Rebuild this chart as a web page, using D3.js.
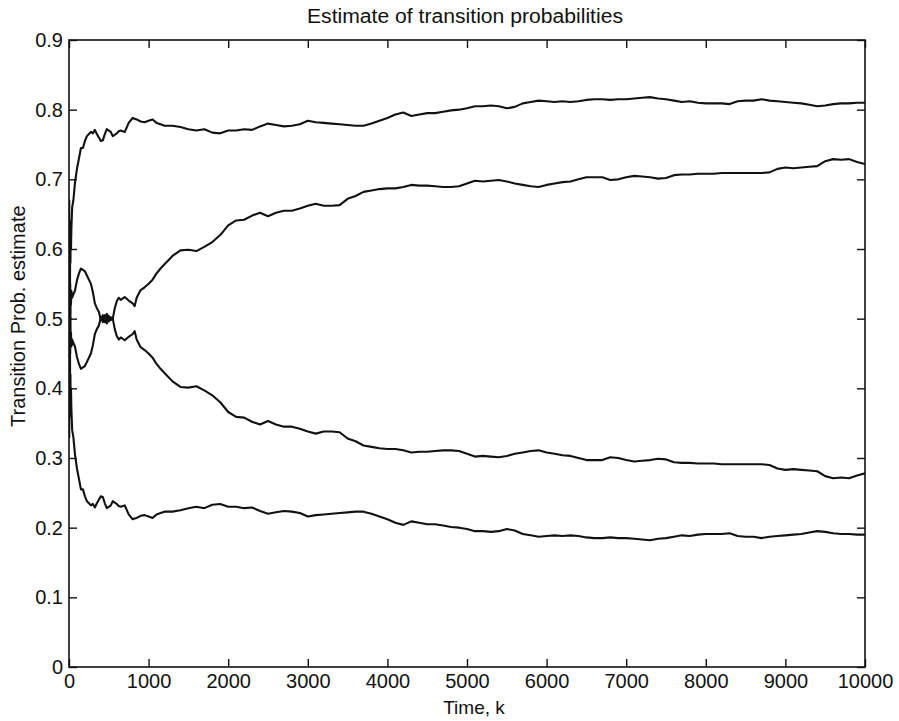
<!DOCTYPE html>
<html>
<head>
<meta charset="utf-8">
<script src="https://cdn.jsdelivr.net/npm/d3@7"></script>
<style>
  html, body { margin: 0; padding: 0; background: #fff; }
  svg { display: block; }
  text { font-family: "Liberation Sans", Arial, Helvetica, sans-serif; fill: #111; }
</style>
</head>
<body>
<svg id="chart" width="899" height="721"></svg>
<script>
// ---- data ----
const titleText = "Estimate of transition probabilities";
const xLabel = "Time, k";
const yLabel = "Transition Prob. estimate";
const xTicks = [0, 1000, 2000, 3000, 4000, 5000, 6000, 7000, 8000, 9000, 10000];
const yTicks = [0, 0.1, 0.2, 0.3, 0.4, 0.5, 0.6, 0.7, 0.8, 0.9];

const steps = [0,3,6,9,12,15,18,21,25,30,40,55,75,100,
  125,150,175,200,225,250,275,300,325,350,
  375,400,425,450,475,500,525,550,575,600,
  625,650,700,750,800,825,850,900,950,1000,
  1050,1100,1150,1200,
  1300,1400,1500,1600,1700,1800,1900,2000,
  2100,2200,2300,2400,2500,2600,2700,2800,2900,3000,
  3100,3200,3300,3400,3500,3600,3700,3800,3900,4000,
  4100,4200,4300,4400,4500,4600,4700,4800,4900,5000,
  5100,5200,5300,5400,5500,5600,5700,5800,5900,6000,
  6100,6200,6300,6400,6500,6600,6700,6800,6900,7000,
  7100,7200,7300,7400,7500,7600,7700,7800,7900,8000,
  8100,8200,8300,8400,8500,8600,8700,8800,8900,9000,
  9100,9200,9300,9400,9500,9600,9700,9800,9900,10000];

const seriesA = [0.50,0.67,0.45,0.63,0.52,0.64,0.58,0.62,0.60,0.63,0.66,0.67,0.695,0.715,
  0.73,0.745,0.745,0.755,0.762,0.765,0.768,0.766,0.771,0.765,
  0.760,0.755,0.756,0.765,0.772,0.770,0.768,0.762,0.764,0.766,
  0.769,0.770,0.768,0.781,0.788,0.787,0.786,0.783,0.782,0.784,
  0.786,0.781,0.779,0.777,
  0.777,0.775,0.772,0.770,0.772,0.767,0.766,0.770,
  0.770,0.772,0.771,0.776,0.780,
  0.778,0.776,0.777,0.779,0.784,
  0.782,0.781,0.780,0.779,0.778,
  0.777,0.777,0.780,0.784,0.788,
  0.793,0.796,0.791,0.793,0.795,
  0.795,0.797,0.799,0.800,0.802,
  0.805,0.805,0.806,0.805,0.802,
  0.804,0.809,0.811,0.813,0.812,
  0.811,0.812,0.811,0.812,0.814,
  0.815,0.815,0.814,0.815,0.815,
  0.816,0.817,0.818,0.816,0.815,
  0.813,0.811,0.812,0.810,0.809,
  0.809,0.809,0.808,0.812,0.813,
  0.813,0.815,0.813,0.812,0.811,
  0.810,0.809,0.807,0.805,0.806,
  0.808,0.809,0.809,0.810,0.810];

const seriesB = [0.50,0.60,0.44,0.57,0.47,0.55,0.50,0.54,0.52,0.54,0.53,0.535,0.54,0.555,
  0.565,0.572,0.570,0.568,0.562,0.556,0.550,0.538,0.522,0.515,
  0.510,0.498,0.505,0.495,0.507,0.496,0.502,0.500,0.515,0.525,
  0.530,0.527,0.531,0.526,0.522,0.518,0.530,0.541,0.545,0.550,
  0.556,0.565,0.572,0.578,
  0.590,0.598,0.599,0.597,0.603,0.610,0.620,0.634,
  0.641,0.642,0.648,0.652,0.647,
  0.652,0.655,0.655,0.658,0.662,
  0.665,0.662,0.662,0.663,0.672,
  0.676,0.682,0.684,0.686,0.687,
  0.687,0.689,0.692,0.691,0.691,
  0.690,0.689,0.689,0.690,0.694,
  0.698,0.697,0.698,0.699,0.697,
  0.694,0.692,0.690,0.689,0.692,
  0.694,0.696,0.697,0.700,0.703,
  0.703,0.703,0.699,0.700,0.703,
  0.705,0.704,0.703,0.701,0.702,
  0.706,0.707,0.707,0.708,0.708,
  0.708,0.709,0.709,0.709,0.709,
  0.709,0.709,0.710,0.715,0.717,
  0.716,0.717,0.718,0.719,0.726,
  0.729,0.728,0.729,0.725,0.722];

const seriesC = [0.50,0.40,0.56,0.43,0.53,0.45,0.50,0.46,0.48,0.46,0.47,0.465,0.46,0.445,
  0.435,0.428,0.430,0.432,0.438,0.444,0.450,0.462,0.478,0.485,
  0.490,0.502,0.495,0.505,0.493,0.504,0.498,0.500,0.485,0.475,
  0.470,0.473,0.469,0.474,0.478,0.482,0.470,0.459,0.455,0.450,
  0.444,0.435,0.428,0.422,
  0.410,0.402,0.401,0.403,0.397,0.390,0.380,0.366,
  0.359,0.358,0.352,0.348,0.353,
  0.348,0.345,0.345,0.342,0.338,
  0.335,0.338,0.338,0.337,0.328,
  0.324,0.318,0.316,0.314,0.313,
  0.313,0.311,0.308,0.309,0.309,
  0.310,0.311,0.311,0.310,0.306,
  0.302,0.303,0.302,0.301,0.303,
  0.306,0.308,0.310,0.311,0.308,
  0.306,0.304,0.303,0.300,0.297,
  0.297,0.297,0.301,0.300,0.297,
  0.295,0.296,0.297,0.299,0.298,
  0.294,0.293,0.293,0.292,0.292,
  0.292,0.291,0.291,0.291,0.291,
  0.291,0.291,0.290,0.285,0.283,
  0.284,0.283,0.282,0.281,0.274,
  0.271,0.272,0.271,0.275,0.278];

const seriesD = [0.50,0.33,0.55,0.37,0.48,0.36,0.42,0.38,0.40,0.37,0.34,0.33,0.305,0.285,
  0.27,0.255,0.255,0.245,0.238,0.235,0.232,0.234,0.229,0.235,
  0.240,0.245,0.244,0.235,0.228,0.230,0.232,0.238,0.236,0.234,
  0.231,0.230,0.232,0.219,0.212,0.213,0.214,0.217,0.218,0.216,
  0.214,0.219,0.221,0.223,
  0.223,0.225,0.228,0.230,0.228,0.233,0.234,0.230,
  0.230,0.228,0.229,0.224,0.220,
  0.222,0.224,0.223,0.221,0.216,
  0.218,0.219,0.220,0.221,0.222,
  0.223,0.223,0.220,0.216,0.212,
  0.207,0.204,0.209,0.207,0.205,
  0.205,0.203,0.201,0.200,0.198,
  0.195,0.195,0.194,0.195,0.198,
  0.196,0.191,0.189,0.187,0.188,
  0.189,0.188,0.189,0.188,0.186,
  0.185,0.185,0.186,0.185,0.185,
  0.184,0.183,0.182,0.184,0.185,
  0.187,0.189,0.188,0.190,0.191,
  0.191,0.191,0.192,0.188,0.187,
  0.187,0.185,0.187,0.188,0.189,
  0.190,0.191,0.193,0.195,0.194,
  0.192,0.191,0.191,0.190,0.190];

// ---- drawing ----
(function () {
  const svg = d3.select("#chart");
  svg.append("rect").attr("width", 899).attr("height", 721).attr("fill", "#fff");

  const mLeft = 69, mRight = 865, mTop = 40, mBottom = 667;
  const x = d3.scaleLinear().domain([0, 10000]).range([mLeft, mRight]);
  const y = d3.scaleLinear().domain([0, 0.9]).range([mBottom, mTop]);

  const seriesList = [seriesA, seriesB, seriesC, seriesD];
  const line = d3.line().x(d => x(d[0])).y(d => y(d[1]));

  svg.append("defs").append("clipPath").attr("id", "clip")
    .append("rect").attr("x", mLeft).attr("y", mTop).attr("width", mRight - mLeft).attr("height", mBottom - mTop);

  const plot = svg.append("g").attr("clip-path", "url(#clip)");
  seriesList.forEach(s => {
    plot.append("path")
      .datum(steps.map((k, i) => [k, s[i]]))
      .attr("d", line)
      .attr("fill", "none")
      .attr("stroke", "#111")
      .attr("stroke-width", 2.1)
      .attr("stroke-linejoin", "round");
  });

  const fmtX = d3.format("d");
  const fmtY = d => d === 0 ? "0" : d3.format(".1f")(d);

  function styleAxis(g) {
    g.select(".domain").remove();
    g.selectAll(".tick line").attr("stroke", "#111").attr("stroke-width", 1.4);
    g.selectAll(".tick text").attr("font-size", 20).attr("fill", "#111")
      .attr("font-family", "Liberation Sans, Arial, sans-serif");
  }

  svg.append("g").attr("transform", `translate(0,${mBottom})`)
    .call(d3.axisBottom(x).tickValues(xTicks).tickFormat(fmtX).tickSizeInner(-8).tickSizeOuter(0).tickPadding(7))
    .call(styleAxis);
  svg.append("g").attr("transform", `translate(0,${mTop})`)
    .call(d3.axisTop(x).tickValues(xTicks).tickFormat("").tickSizeInner(-8).tickSizeOuter(0))
    .call(styleAxis);
  svg.append("g").attr("transform", `translate(${mLeft},0)`)
    .call(d3.axisLeft(y).tickValues(yTicks).tickFormat(fmtY).tickSizeInner(-8).tickSizeOuter(0).tickPadding(6))
    .call(styleAxis);
  svg.append("g").attr("transform", `translate(${mRight},0)`)
    .call(d3.axisRight(y).tickValues(yTicks).tickFormat("").tickSizeInner(-8).tickSizeOuter(0))
    .call(styleAxis);

  svg.append("rect")
    .attr("x", mLeft).attr("y", mTop).attr("width", mRight - mLeft).attr("height", mBottom - mTop)
    .attr("fill", "none").attr("stroke", "#111").attr("stroke-width", 1.6);

  svg.append("text")
    .attr("x", (mLeft + mRight) / 2 - 2).attr("y", 23)
    .attr("text-anchor", "middle").attr("font-size", 20)
    .attr("textLength", 316).attr("lengthAdjust", "spacingAndGlyphs")
    .text(titleText);

  svg.append("text")
    .attr("x", 474).attr("y", 714)
    .attr("text-anchor", "middle").attr("font-size", 19)
    .text(xLabel);

  svg.append("text")
    .attr("transform", "translate(25,427) rotate(-90)")
    .attr("text-anchor", "start").attr("font-size", 20)
    .text(yLabel);
})();
</script>
</body>
</html>
